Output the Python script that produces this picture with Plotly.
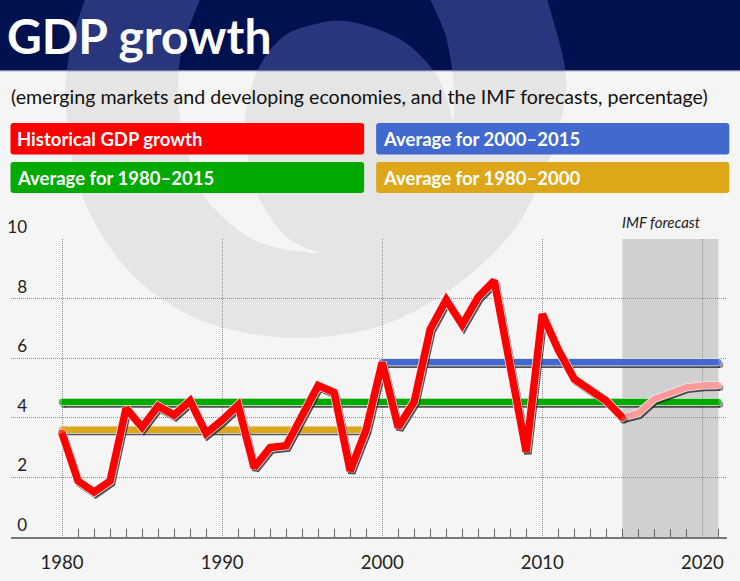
import plotly.graph_objects as go

# ---------- data ----------
years = list(range(1980, 2016))
gdp_growth = [3.48, 1.88, 1.51, 1.88, 4.32, 3.68, 4.39, 4.09, 4.57, 3.48,
              3.92, 4.43, 2.33, 3.00, 3.06, 4.04, 5.08, 4.85, 2.22, 3.60,
              5.86, 3.68, 4.54, 6.97, 7.96, 7.12, 8.05, 8.60, 5.72, 2.86,
              7.48, 6.28, 5.30, 4.93, 4.57, 4.01]
forecast_years = [2015, 2016, 2017, 2018, 2019, 2020, 2021]
forecast_growth = [4.01, 4.15, 4.63, 4.82, 5.02, 5.08, 5.09]
avg_1980_2015 = 4.53
avg_1980_2000 = 3.60
avg_2000_2015 = 5.86
avg_1980_2015_span = [1980, 2021]
avg_1980_2000_span = [1980, 1999]
avg_2000_2015_span = [2000, 2021]
forecast_span = [2015, 2021]
y_ticks = [0, 2, 4, 6, 8, 10]
x_ticks = [1980, 1990, 2000, 2010, 2020]
minor_years = [y for y in range(1981, 2022) if y % 10]
title_text = "GDP growth"
subtitle_text = "(emerging markets and developing economies, and the IMF forecasts, percentage)"
legend_labels = ["Historical GDP growth", "Average for 2000–2015", "Average for 1980–2015", "Average for 1980–2000"]
forecast_label = "IMF forecast"

# ---------- page geometry ----------
W, H = 740, 581
L, R, T, B = 11, 13.3, 239.3, 44.3
RED, BLUE, GREEN, GOLD, PINK = "#ff0000", "#4169cf", "#00aa00", "#dea71a", "#ff9a9a"
PAGE, NAVY, NAVY_LT, WM = "#f5f5f5", "#00114f", "#29367d", "#e5e5e5"


def fx(x):
    return (x - L) / (W - L - R)


def fy(y):
    return 1 - (y - T) / (H - T - B)


def spline(p, n=10):
    """Catmull-Rom sampling of a decorative outline, in page pixels."""
    out = []
    q = [p[0]] + p + [p[-1]]
    for i in range(1, len(q) - 2):
        a, b, c, d = q[i - 1], q[i], q[i + 1], q[i + 2]
        for k in range(n):
            t = k / n
            out.append(tuple(0.5 * (2 * b[j] + (c[j] - a[j]) * t + (2 * a[j] - 5 * b[j] + 4 * c[j] - d[j]) * t * t
                                    + (3 * b[j] - a[j] - 3 * c[j] + d[j]) * t ** 3) for j in (0, 1)))
    out.append(p[-1])
    return out


def clip(poly, y0, keep_above):
    res = []
    inside = (lambda p: p[1] <= y0) if keep_above else (lambda p: p[1] >= y0)
    for i, a in enumerate(poly):
        b = poly[(i + 1) % len(poly)]
        if inside(a):
            res.append(a)
        if inside(a) != inside(b):
            t = (y0 - a[1]) / (b[1] - a[1])
            res.append((a[0] + t * (b[0] - a[0]), y0))
    return res


def path_of(poly):
    return "M " + " L ".join(f"{fx(x):.5f},{fy(y):.5f}" for x, y in poly) + " Z"


def round_rect(x0, y0, x1, y1, r=3):
    return (f"M {fx(x0 + r):.5f},{fy(y0):.5f} L {fx(x1 - r):.5f},{fy(y0):.5f} Q {fx(x1):.5f},{fy(y0):.5f} {fx(x1):.5f},{fy(y0 + r):.5f} "
            f"L {fx(x1):.5f},{fy(y1 - r):.5f} Q {fx(x1):.5f},{fy(y1):.5f} {fx(x1 - r):.5f},{fy(y1):.5f} "
            f"L {fx(x0 + r):.5f},{fy(y1):.5f} Q {fx(x0):.5f},{fy(y1):.5f} {fx(x0):.5f},{fy(y1 - r):.5f} "
            f"L {fx(x0):.5f},{fy(y0 + r):.5f} Q {fx(x0):.5f},{fy(y0):.5f} {fx(x0 + r):.5f},{fy(y0):.5f} Z")


outer = [(85, 0), (70, 50), (66, 110), (80, 190), (115, 255), (160, 298), (220, 327), (300, 338), (380, 326),
         (450, 290), (510, 235), (543, 175), (562, 115), (565, 70), (547, 0)]
hole_r = [(430, 0), (445, 35), (452, 71), (454, 100), (453, 125)]
blob = [(453, 125), (447, 100), (433, 71), (400, 40), (347, 22), (307, 27), (280, 40), (257, 72), (245, 120),
        (249, 165), (257, 195), (285, 236), (320, 254)]
hole_l = [(320, 254), (273, 247), (240, 232), (203, 195), (187, 150), (178, 100), (182, 50), (200, 0)]
mark = spline(outer) + spline(hole_r) + spline(blob) + spline(hole_l)

shapes = [
    dict(type="path", path=path_of(clip(mark, 71, False)), xref="paper", yref="paper", fillcolor=WM, line_width=0, layer="below"),
    dict(type="rect", xref="paper", yref="paper", x0=fx(0), x1=fx(W), y0=fy(0), y1=fy(71), fillcolor=NAVY, line_width=0, layer="below"),
    dict(type="path", path=path_of(clip(mark, 71, True)), xref="paper", yref="paper", fillcolor=NAVY_LT, line_width=0, layer="below"),
    dict(type="rect", xref="paper", yref="paper", x0=fx(0), x1=fx(W), y0=fy(71), y1=fy(72), fillcolor="#5f6da3", line_width=0, layer="below"),
    dict(type="rect", xref="x", yref="y", x0=forecast_span[0], x1=forecast_span[1], y0=y_ticks[0], y1=y_ticks[-1],
         fillcolor="#d0d0d0", line_width=0, layer="below"),
]
boxes = [(10.5, 123.5, 364, 155, RED), (376, 123.5, 729, 155, BLUE), (10.5, 162.5, 364, 193.5, GREEN), (376, 162.5, 729, 193.5, GOLD)]
for x0, y0, x1, y1, c in boxes:
    shapes.append(dict(type="path", path=round_rect(x0, y0, x1, y1), xref="paper", yref="paper", fillcolor=c, line_width=0, layer="below"))

annotations = [
    dict(text=title_text, x=fx(7), y=fy(36), xanchor="left", yanchor="middle", font=dict(family="Lato", size=48, color="white", weight=700)),
    dict(text=subtitle_text, x=fx(11), y=fy(97), xanchor="left", yanchor="middle", font=dict(family="Lato", size=19.6, color="#111111")),
    dict(text=forecast_label, x=fx(622), y=fy(222), xanchor="left", yanchor="middle", font=dict(family="Lato", size=15, color="#222222", style="italic")),
]
for (x0, y0, x1, y1, c), t in zip(boxes, legend_labels):
    annotations.append(dict(text=t, x=fx(x0 + 6.5), y=fy((y0 + y1) / 2), xanchor="left", yanchor="middle",
                            font=dict(family="Lato", size=18.5, color="white", weight=700)))
for a in annotations:
    a.update(xref="paper", yref="paper", showarrow=False, borderpad=0, borderwidth=0)

fig = go.Figure()
DX, DY = 0.1, -0.08


def line(xs, ys, color, width):
    sizes = [width if i in (0, len(xs) - 1) else 0 for i in range(len(xs))]
    fig.add_trace(go.Scatter(x=xs, y=ys, mode="lines+markers", line=dict(color=color, width=width),
                             marker=dict(color=color, size=sizes, line_width=0), hoverinfo="skip", showlegend=False))


def styled(xs, ys, color, width):
    line([x + DX for x in xs], [y + DY for y in ys], "rgba(40,40,40,0.8)", width)
    line(xs, ys, "#ececec", width + 1.5)
    line(xs, ys, color, width)


styled(avg_1980_2000_span, [avg_1980_2000] * 2, GOLD, 6.5)
styled(avg_1980_2015_span, [avg_1980_2015] * 2, GREEN, 6.5)
styled(avg_2000_2015_span, [avg_2000_2015] * 2, BLUE, 6.5)
styled(forecast_years, forecast_growth, PINK, 6.5)
styled(years, gdp_growth, RED, 7.5)

grid = "#8c8c8c"
fig.update_layout(
    width=W, height=H, autosize=False,
    margin=dict(l=L, r=R, t=T, b=B, pad=0),
    paper_bgcolor=PAGE, plot_bgcolor="rgba(0,0,0,0)",
    showlegend=False, shapes=shapes, annotations=annotations,
    font=dict(family="Lato", color="#222222"),
    xaxis=dict(range=[1976.81, 2021.54], tickmode="array", tickvals=x_ticks, ticktext=[str(v) for v in x_ticks],
               showgrid=True, gridcolor=grid, griddash="1px,1px", gridwidth=1, zeroline=False, automargin=False,
               showline=True, linecolor="#777777", linewidth=1.5, ticks="", tickfont=dict(size=18.5, family="Lato", color="#222222"),
               ticklabelstandoff=8,
               minor=dict(tickmode="array", tickvals=minor_years, ticks="inside", ticklen=8, tickcolor="#666666", tickwidth=1, showgrid=False)),
    yaxis=dict(range=[0, 10], tickmode="array", tickvals=y_ticks, ticktext=[str(v) for v in y_ticks],
               showgrid=True, gridcolor=grid, griddash="1px,1px", gridwidth=1, zeroline=False, showline=False, ticks="",
               tickfont=dict(size=17, family="Lato", color="#222222"), ticklabelstandoff=-17, ticklabelshift=-12, automargin=False),
)
fig.write_html("out.html", config=dict(displayModeBar=False), post_script="document.body.style.margin='0';")
